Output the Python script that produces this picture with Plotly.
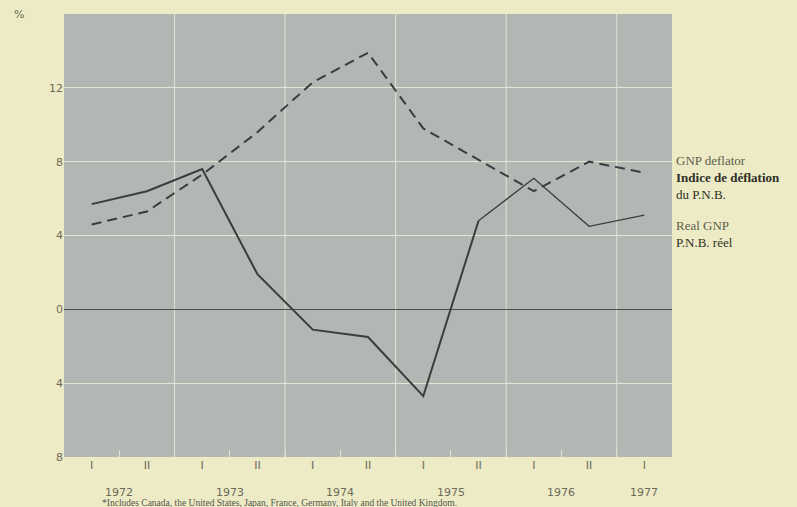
import plotly.graph_objects as go

# Half-year periods 1972 I .. 1977 I
periods = ["1972 I", "1972 II", "1973 I", "1973 II", "1974 I", "1974 II",
           "1975 I", "1975 II", "1976 I", "1976 II", "1977 I"]
half_labels = ["I", "II", "I", "II", "I", "II", "I", "II", "I", "II", "I"]
years = ["1972", "1973", "1974", "1975", "1976", "1977"]

gnp_deflator = [4.6, 5.3, 7.3, 9.6, 12.3, 13.9, 9.8, 8.1, 6.4, 8.0, 7.4]
real_gnp = [5.7, 6.4, 7.6, 1.9, -1.1, -1.5, -4.7, 4.8, 7.1, 4.5, 5.1]

y_ticks = [-8, -4, 0, 4, 8, 12]
y_ticktext = ["8", "4", "0", "4", "8", "12"]

idx = list(range(len(periods)))
split = 7  # real GNP drawn thinner from 1975 II on

ink = "#3a3c3d"
label_col = "#6d6a58"
paper = "#ecebc6"
plotbg = "#b3b7b4"
gridc = "#e2e4d4"

fig = go.Figure()
fig.add_trace(go.Scatter(x=idx, y=gnp_deflator, mode="lines",
                         line=dict(color=ink, width=2, dash="10px,6px"),
                         name="GNP deflator", showlegend=False))
fig.add_trace(go.Scatter(x=idx[:split + 1], y=real_gnp[:split + 1], mode="lines",
                         line=dict(color=ink, width=2), name="Real GNP", showlegend=False))
fig.add_trace(go.Scatter(x=idx[split:], y=real_gnp[split:], mode="lines",
                         line=dict(color=ink, width=1.3), name="Real GNP", showlegend=False))

# vertical grid lines at year boundaries
for b in [1.5, 3.5, 5.5, 7.5, 9.5]:
    fig.add_shape(type="line", xref="x", yref="paper", x0=b, x1=b, y0=0, y1=1,
                  line=dict(color=gridc, width=1), layer="below")

# year labels
for i, yr in enumerate(years):
    xpos = 2 * i + 0.5 if i < len(years) - 1 else 2 * i
    fig.add_annotation(x=xpos, xref="x", y=-0.062, yref="paper", text=yr,
                       showarrow=False, yanchor="top",
                       font=dict(family="DejaVu Sans", size=11, color=label_col))

fig.add_annotation(x=-0.085, xref="paper", y=1.0, yref="paper", text="%",
                   showarrow=False, xanchor="left", yanchor="middle",
                   font=dict(family="DejaVu Sans", size=11, color=label_col))

light = "#5f5e4a"
dark = "#2f2f27"
fig.add_annotation(x=1.004, xref="paper", y=0.69, yref="paper",
                   text=(f"<span style='color:{light}'>GNP deflator</span><br>"
                         f"<b>Indice de déflation</b><br>du P.N.B."),
                   showarrow=False, xanchor="left", yanchor="top", align="left",
                   font=dict(family="Liberation Serif", size=13, color=dark))
fig.add_annotation(x=1.004, xref="paper", y=0.545, yref="paper",
                   text=f"<span style='color:{light}'>Real GNP</span><br>P.N.B. réel",
                   showarrow=False, xanchor="left", yanchor="top", align="left",
                   font=dict(family="Liberation Serif", size=13, color=dark))

fig.add_annotation(x=0.06, xref="paper", y=-0.087, yref="paper",
                   text="*Includes Canada, the United States, Japan, France, Germany, Italy and the United Kingdom.",
                   showarrow=False, xanchor="left", yanchor="top",
                   font=dict(family="Liberation Serif", size=9.5, color="#55554a"))

fig.update_layout(
    width=797, height=507,
    margin=dict(l=64, r=125, t=14, b=50),
    paper_bgcolor=paper, plot_bgcolor=plotbg,
    xaxis=dict(range=[-0.5, 10.5], tickvals=idx, ticktext=half_labels,
               showgrid=False, zeroline=False, showline=False, ticks="",
               tickfont=dict(family="DejaVu Sans", size=11, color=label_col),
               minor=dict(tickvals=[i + 0.5 for i in idx[:-1]], ticks="inside",
                          ticklen=7, tickcolor=gridc, showgrid=False)),
    yaxis=dict(range=[-8, 16], tickvals=y_ticks, ticktext=y_ticktext,
               showgrid=True, gridcolor=gridc, gridwidth=1,
               zeroline=True, zerolinecolor="#4a4d4e", zerolinewidth=1,
               showline=False, ticks="",
               tickfont=dict(family="DejaVu Sans", size=11, color=label_col)),
)

fig.write_html("out.html", config={"displayModeBar": False},
               post_script="document.body.style.margin='0';document.body.style.overflow='hidden';")
